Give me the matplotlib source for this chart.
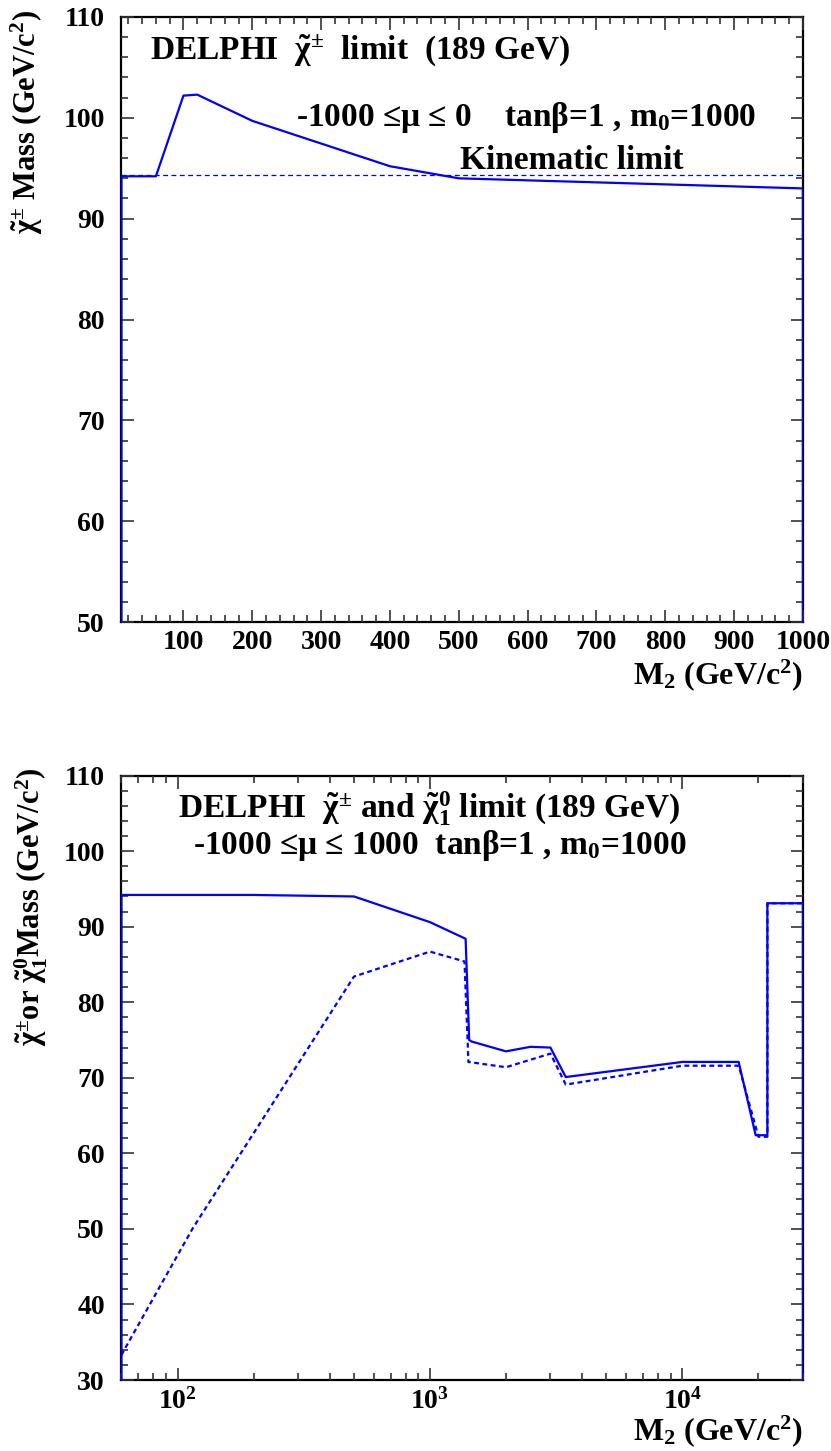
import matplotlib
matplotlib.use('Agg')
import matplotlib.pyplot as plt
import numpy as np
from matplotlib.ticker import MultipleLocator, FixedLocator, FixedFormatter, NullFormatter

plt.rcParams['font.family'] = ['Liberation Serif', 'DejaVu Serif']
plt.rcParams['font.weight'] = 'bold'
plt.rcParams['mathtext.fontset'] = 'custom'
plt.rcParams['mathtext.rm'] = 'Liberation Serif:bold'
plt.rcParams['mathtext.bf'] = 'Liberation Serif:bold'
plt.rcParams['mathtext.it'] = 'Liberation Serif'
plt.rcParams['lines.scale_dashes'] = False

# top panel: chargino limit, mu < 0
top_m2 = [10, 10, 60, 100, 120, 200, 400, 500, 1000, 1000]
top_mass = [50, 94.2, 94.2, 102.2, 102.3, 99.7, 95.2, 94.0, 93.0, 50]
kin_limit = 94.35

# bottom panel: chargino (solid) and neutralino (dashed)
m2_c = [60, 60, 200, 500, 1000, 1384, 1430, 1462, 2000, 2500, 3000, 3450,
        10000, 16700, 19500, 21700, 21700, 30000, 30000]
mass_c = [30, 94.2, 94.2, 94.0, 90.6, 88.4, 75.0, 74.8, 73.5, 74.1, 74.0, 70.1,
          72.1, 72.1, 62.4, 62.4, 93.1, 93.1, 30]
m2_n = [60, 62, 115, 500, 1000, 1370, 1420, 2000, 3000, 3450, 10000, 16700,
        20000, 21700, 21700, 30000]
mass_n = [33.3, 34.2, 50.1, 83.4, 86.7, 85.4, 72.1, 71.4, 73.2, 69.1, 71.6, 71.6,
          62.2, 62.2, 93.1, 93.1]

log_ticks = [100, 1000, 10000]
log_labels = [r'$10^{2}$', r'$10^{3}$', r'$10^{4}$']

blue = '#0000ff'
fs_tick = 20
fs_text = 24
fs_ylab = 22
fs_xlab = 23

fig = plt.figure(figsize=(8.31, 14.51), dpi=100)
ax1 = fig.add_axes([0.1462, 0.5713, 0.8200, 0.4170])
ax2 = fig.add_axes([0.1462, 0.0489, 0.8200, 0.4166])


def style(ax):
    for s in ax.spines.values():
        s.set_linewidth(1.6)
        s.set_zorder(1)
    ax.tick_params(which='both', direction='in', top=True, right=True,
                   labelsize=fs_tick, width=1.2, color='#333333')
    ax.tick_params(which='major', length=9)
    ax.tick_params(which='minor', length=5)
    ax.tick_params(axis='y', pad=12)
    ax.tick_params(axis='x', pad=6)
    for lab in ax.get_xticklabels() + ax.get_yticklabels():
        lab.set_fontweight('bold')


# ---- top
ax1.plot(top_m2, top_mass, color=blue, lw=1.6, zorder=3)
ax1.axhline(kin_limit, color=blue, lw=0.9, ls=(0, (3.5, 2.5)))
ax1.set_xlim(10, 1000)
ax1.set_ylim(50, 110)
ax1.xaxis.set_major_locator(FixedLocator(np.arange(100, 1001, 100)))
ax1.xaxis.set_minor_locator(MultipleLocator(20))
ax1.yaxis.set_major_locator(MultipleLocator(10))
ax1.yaxis.set_minor_locator(MultipleLocator(2))
style(ax1)

ax1.text(51, 106.7, r'DELPHI  $\tilde{\chi}^{\pm}$  limit  (189 GeV)',
         fontsize=fs_text, fontweight='bold', va='center', ha='left')
ax1.text(264, 100.0, r'-1000 ≤μ ≤ 0    tanβ=1 , m$_{0}$=1000',
         fontsize=fs_text, fontweight='bold', va='center', ha='left')
ax1.text(502, 95.8, 'Kinematic limit', fontsize=fs_text, fontweight='bold',
         va='center', ha='left')
ax1.text(-0.139, 1.012, r'$\tilde{\chi}^{\pm}$ Mass (GeV/c$^{2}$)', transform=ax1.transAxes,
         rotation=90, ha='center', va='top', fontsize=fs_ylab, fontweight='bold')
ax1.text(1.0, -0.088, r'M$_{2}$ (GeV/c$^{2}$)', transform=ax1.transAxes,
         ha='right', va='center', fontsize=fs_xlab, fontweight='bold')

# ---- bottom
ax2.plot(m2_c, mass_c, color=blue, lw=1.6, zorder=3)
ax2.plot(m2_n, mass_n, color=blue, lw=1.6, ls=(0, (3.5, 2.5)), zorder=3)
ax2.set_xscale('log')
ax2.set_xlim(60, 30000)
ax2.set_ylim(30, 110)
ax2.xaxis.set_major_locator(FixedLocator(log_ticks))
ax2.xaxis.set_major_formatter(FixedFormatter(log_labels))
minors = [m * d for d in (10, 100, 1000, 10000) for m in range(2, 10)]
ax2.xaxis.set_minor_locator(FixedLocator(minors))
ax2.xaxis.set_minor_formatter(NullFormatter())
ax2.yaxis.set_major_locator(MultipleLocator(10))
ax2.yaxis.set_minor_locator(MultipleLocator(2))
style(ax2)

ax2.text(100, 105.6, r'DELPHI  $\tilde{\chi}^{\pm}$ and $\tilde{\chi}^{0}_{1}$ limit (189 GeV)',
         fontsize=fs_text, fontweight='bold', va='center', ha='left')
ax2.text(115, 100.7, r'-1000 ≤μ ≤ 1000  tanβ=1 , m$_{0}$=1000',
         fontsize=fs_text, fontweight='bold', va='center', ha='left')
ax2.text(-0.132, 1.014, r'$\tilde{\chi}^{\pm}$or $\tilde{\chi}^{0}_{1}$Mass (GeV/c$^{2}$)',
         transform=ax2.transAxes, rotation=90, ha='center', va='top',
         fontsize=fs_ylab, fontweight='bold')
ax2.text(1.0, -0.085, r'M$_{2}$ (GeV/c$^{2}$)', transform=ax2.transAxes,
         ha='right', va='center', fontsize=fs_xlab, fontweight='bold')

fig.savefig('out.png', dpi=100)
